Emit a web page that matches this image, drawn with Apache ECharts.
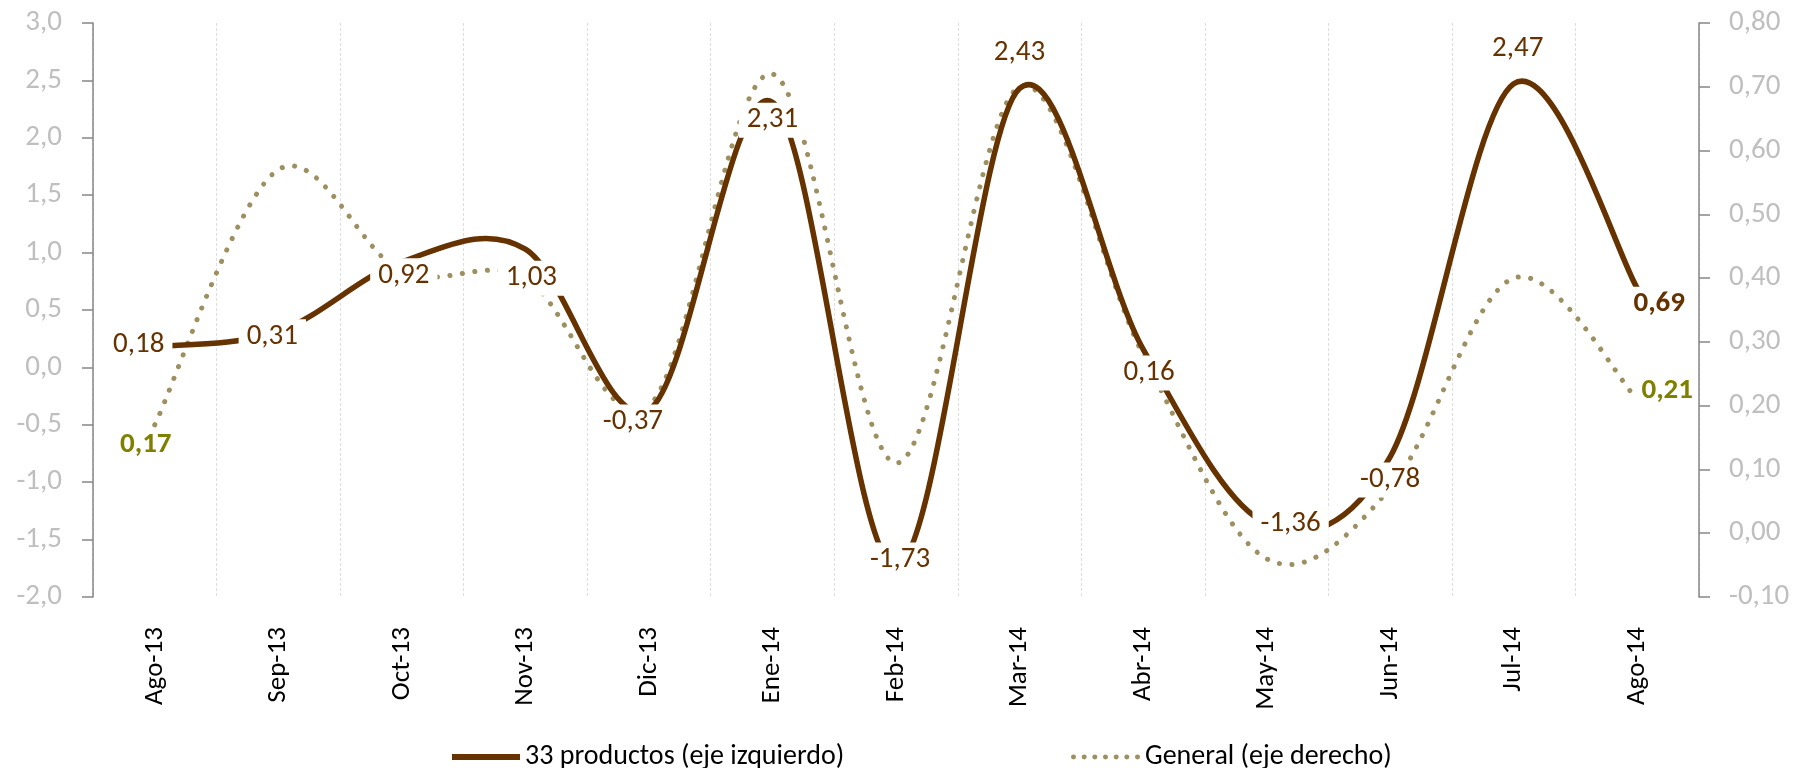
<!DOCTYPE html>
<html>
<head>
<meta charset="utf-8">
<script src="https://cdn.jsdelivr.net/npm/echarts@6/dist/echarts.min.js"></script>
<style>
  html, body { margin: 0; padding: 0; background: #fff; }
  #chart { width: 1799px; height: 768px; }
</style>
</head>
<body>
<div id="chart"></div>
<script>
const months = ['Ago-13', 'Sep-13', 'Oct-13', 'Nov-13', 'Dic-13', 'Ene-14', 'Feb-14',
  'Mar-14', 'Abr-14', 'May-14', 'Jun-14', 'Jul-14', 'Ago-14'];
const productos = [0.18, 0.31, 0.92, 1.03, -0.37, 2.31, -1.73, 2.43, 0.16, -1.36, -0.78, 2.47, 0.69];
const general = [0.17, 0.57, 0.41, 0.40, 0.20, 0.72, 0.11, 0.70, 0.28, -0.04, 0.07, 0.40, 0.21];
const nameProductos = '33 productos (eje izquierdo)';
const nameGeneral = 'General (eje derecho)';

// where each label sits relative to its point, like the Excel original
const prodLabelShift = [[-16, -2], [-6, 5], [2, 14], [6, 29], [-16, 12], [0, 18], [4, -6],
  [0, -36], [6, 24], [24, 0], [0, 23], [4, -35], [22, 16]];
const genLabelShift = { 0: [-9, 20], 12: [30, -9] };

const FONT = 'Carlito, Lato, sans-serif';
const BROWN = '#663300';
const TAN = '#9d8f60';
const OLIVE = '#808000';
const comma = (v, d) => v.toFixed(d).replace('.', ',');

// excel style smoothed line (catmull-rom through the points), drawn once for the whole series
function curve(stroke, lineWidth, lineDash) {
  return function (params, api) {
    if (params.dataIndexInside !== 0) return null;
    const n = params.dataInsideLength;
    const pts = [];
    for (let j = 0; j < n; j++) {
      pts.push(api.coord([api.value(0, j), api.value(1, j)]));
    }
    let d = 'M' + pts[0][0] + ',' + pts[0][1];
    for (let j = 0; j < n - 1; j++) {
      const p0 = pts[Math.max(j - 1, 0)];
      const p1 = pts[j];
      const p2 = pts[j + 1];
      const p3 = pts[Math.min(j + 2, n - 1)];
      const c1x = p1[0] + (p2[0] - p0[0]) / 6;
      const c1y = p1[1] + (p2[1] - p0[1]) / 6;
      const c2x = p2[0] - (p3[0] - p1[0]) / 6;
      const c2y = p2[1] - (p3[1] - p1[1]) / 6;
      d += ' C' + c1x + ',' + c1y + ' ' + c2x + ',' + c2y + ' ' + p2[0] + ',' + p2[1];
    }
    return {
      type: 'path',
      shape: { pathData: d },
      style: { fill: 'none', stroke: stroke, lineWidth: lineWidth, lineDash: lineDash, lineCap: 'round' }
    };
  };
}

// legend icon for the dotted series: a row of seven dots
let dots = '';
for (let k = 0; k < 7; k++) {
  const x = k * 10.67;
  dots += 'M' + x + ',2.5a2.5,2.5 0 1,0 5,0a2.5,2.5 0 1,0 -5,0Z';
}

const chart = echarts.init(document.getElementById('chart'));

const prodPoints = productos.map((v, i) => [i, v]);
const genPoints = general.map((v, i) => [i, v]);

const prodLabels = productos.map((v, i) => ({
  value: [i, v],
  label: {
    offset: prodLabelShift[i],
    fontWeight: i === productos.length - 1 ? 'bold' : 'normal'
  }
}));
const genLabels = general.map((v, i) => {
  const shift = genLabelShift[i];
  return shift ? { value: [i, v], label: { show: true, offset: shift } } : { value: [i, v] };
});

chart.setOption({
  backgroundColor: '#fff',
  animation: false,
  grid: { left: 93, right: 100, top: 23, bottom: 171 },
  legend: [
    {
      data: [{ name: nameProductos, icon: 'rect' }],
      left: 447,
      top: 738,
      itemWidth: 68,
      itemHeight: 6,
      itemGap: 5,
      selectedMode: false,
      textStyle: { fontFamily: FONT, fontSize: 28, color: '#000' }
    },
    {
      data: [{ name: nameGeneral, icon: 'path://' + dots }],
      left: 1066,
      top: 738,
      itemWidth: 69,
      itemHeight: 5,
      itemGap: 5,
      selectedMode: false,
      textStyle: { fontFamily: FONT, fontSize: 28, color: '#000' }
    }
  ],
  xAxis: {
    type: 'category',
    data: months,
    boundaryGap: true,
    axisLine: { show: false },
    axisTick: { show: false },
    axisLabel: {
      rotate: 90,
      margin: 30,
      color: '#000',
      fontFamily: FONT,
      fontSize: 27
    },
    splitLine: {
      show: true,
      lineStyle: { color: '#dedede', width: 1, type: [3, 2] }
    }
  },
  yAxis: [
    {
      type: 'value',
      min: -2,
      max: 3,
      interval: 0.5,
      position: 'left',
      axisLine: { show: true, lineStyle: { color: '#868686', width: 1.5 } },
      axisTick: { show: true, inside: false, length: 11, lineStyle: { color: '#868686', width: 1.5 } },
      splitLine: { show: false },
      axisLabel: {
        margin: 31,
        color: '#bfbfbf',
        fontFamily: FONT,
        fontSize: 29,
        formatter: v => comma(v, 1)
      }
    },
    {
      type: 'value',
      min: -0.1,
      max: 0.8,
      interval: 0.1,
      position: 'right',
      axisLine: { show: true, lineStyle: { color: '#868686', width: 1.5 } },
      axisTick: { show: true, inside: false, length: 11, lineStyle: { color: '#868686', width: 1.5 } },
      splitLine: { show: false },
      axisLabel: {
        margin: 30,
        color: '#bfbfbf',
        fontFamily: FONT,
        fontSize: 29,
        formatter: v => comma(v, 2)
      }
    }
  ],
  series: [
    {
      name: nameGeneral,
      type: 'custom',
      yAxisIndex: 1,
      z: 2,
      silent: true,
      itemStyle: { color: TAN },
      renderItem: curve(TAN, 5, [0.1, 12.5]),
      data: genPoints
    },
    {
      name: nameProductos,
      type: 'custom',
      yAxisIndex: 0,
      z: 3,
      silent: true,
      itemStyle: { color: BROWN },
      renderItem: curve(BROWN, 5.5, null),
      data: prodPoints
    },
    {
      type: 'scatter',
      yAxisIndex: 1,
      z: 4,
      silent: true,
      symbolSize: 1,
      itemStyle: { color: 'rgba(0,0,0,0)', opacity: 1 },
      label: {
        show: false,
        position: 'inside',
        color: OLIVE,
        fontFamily: FONT,
        fontSize: 29,
        fontWeight: 'bold',
        formatter: p => comma(p.value[1], 2)
      },
      emphasis: { disabled: true },
      data: genLabels
    },
    {
      type: 'scatter',
      yAxisIndex: 0,
      z: 5,
      silent: true,
      symbolSize: 1,
      itemStyle: { color: 'rgba(0,0,0,0)', opacity: 1 },
      label: {
        show: true,
        position: 'inside',
        color: BROWN,
        fontFamily: FONT,
        fontSize: 29,
        backgroundColor: '#fff',
        padding: [3, 8],
        formatter: p => comma(p.value[1], 2)
      },
      emphasis: { disabled: true },
      data: prodLabels
    }
  ]
});
</script>
</body>
</html>
